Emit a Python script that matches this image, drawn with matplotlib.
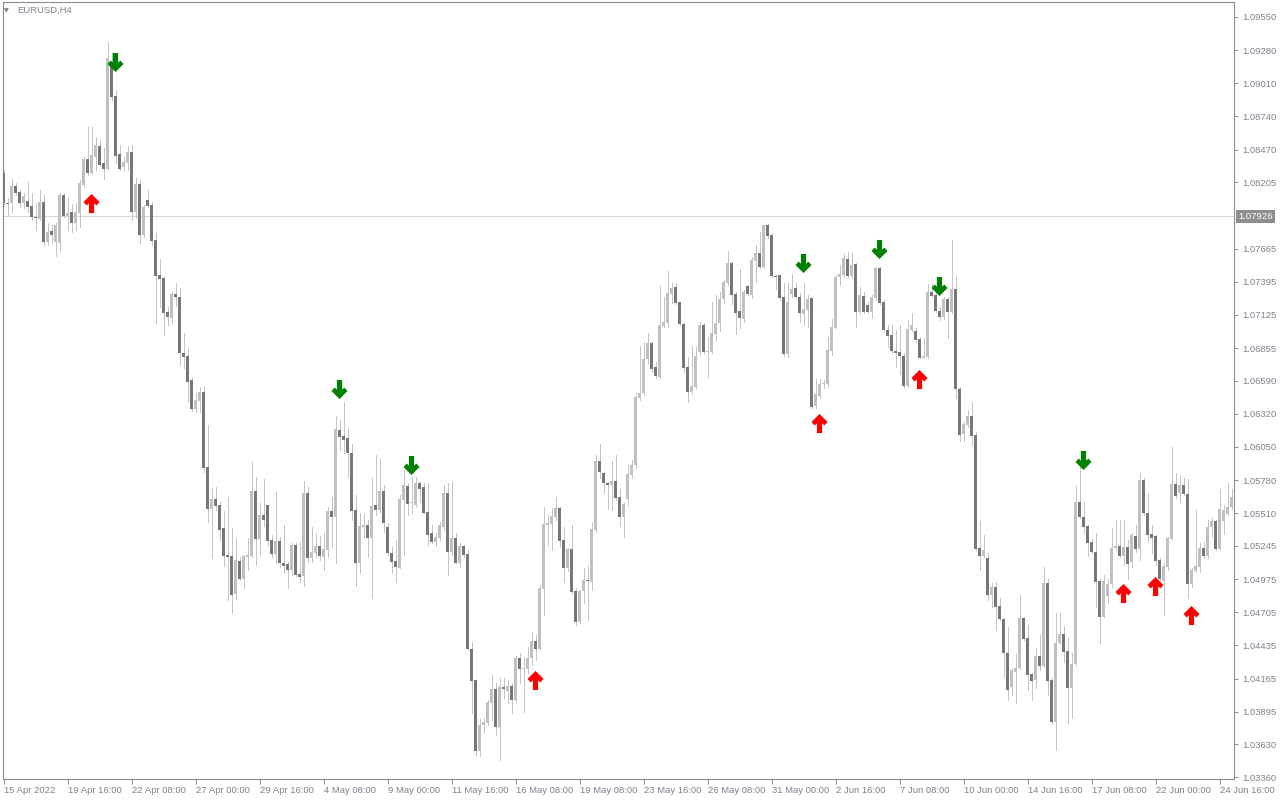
import numpy as np
import matplotlib
matplotlib.use("Agg")
import matplotlib.pyplot as plt
from matplotlib.path import Path
from matplotlib.transforms import blended_transform_factory

plt.rcParams['font.family'] = ['Liberation Sans', 'DejaVu Sans']

# ---------------- data ----------------
symbol_title = "EURUSD,H4"
date_labels = ["15 Apr 2022", "19 Apr 16:00", "22 Apr 08:00", "27 Apr 00:00", "29 Apr 16:00",
               "4 May 08:00", "9 May 00:00", "11 May 16:00", "16 May 08:00", "19 May 08:00",
               "23 May 16:00", "26 May 08:00", "31 May 00:00", "2 Jun 16:00", "7 Jun 08:00",
               "10 Jun 00:00", "14 Jun 16:00", "17 Jun 08:00", "22 Jun 00:00", "24 Jun 16:00"]
price_ticks = [1.09550, 1.09280, 1.09010, 1.08740, 1.08470, 1.08205, 1.07665, 1.07395,
               1.07125, 1.06855, 1.06590, 1.06320, 1.06050, 1.05780, 1.05510, 1.05245,
               1.04975, 1.04705, 1.04435, 1.04165, 1.03895, 1.03630, 1.03360]
current_price = 1.07926

opens = [
    1.08280, 1.08036, 1.08036, 1.08174, 1.08125, 1.08036, 1.08052, 1.08011, 1.07922, 1.07906,
    1.08044, 1.07718, 1.07808, 1.07718, 1.07710, 1.08100, 1.07930, 1.07963, 1.07873, 1.07954,
    1.08182, 1.08394, 1.08280, 1.08410, 1.08499, 1.08362, 1.08312, 1.09184, 1.08906, 1.08434,
    1.08329, 1.08362, 1.08451, 1.07963, 1.08190, 1.07775, 1.08060, 1.08019, 1.07734, 1.07449,
    1.07425, 1.07148, 1.07099, 1.07295, 1.07270, 1.06815, 1.06790, 1.06595, 1.06359, 1.06424,
    1.06497, 1.05887, 1.05545, 1.05626, 1.05577, 1.05390, 1.05170, 1.05162, 1.04853, 1.05122,
    1.04975, 1.05154, 1.05162, 1.05691, 1.05301, 1.05496, 1.05577, 1.05292, 1.05178, 1.05284,
    1.05105, 1.05097, 1.05048, 1.05252, 1.05016, 1.05000, 1.05675, 1.05146, 1.05187, 1.05244,
    1.05154, 1.05211, 1.05528, 1.05480, 1.06188, 1.06139, 1.06123, 1.06000, 1.05537, 1.05105,
    1.05398, 1.05414, 1.05309, 1.05577, 1.05537, 1.05691, 1.05398, 1.05187, 1.05122, 1.05065,
    1.05618, 1.05732, 1.05594, 1.05577, 1.05756, 1.05724, 1.05520, 1.05349, 1.05276, 1.05309,
    1.05398, 1.05675, 1.05195, 1.05309, 1.05105, 1.05244, 1.05178, 1.04405, 1.04153, 1.03575,
    1.03786, 1.03803, 1.03966, 1.04080, 1.03770, 1.04096, 1.04064, 1.04104, 1.03990, 1.04332,
    1.04242, 1.04242, 1.04332, 1.04470, 1.04405, 1.04894, 1.05414, 1.05423, 1.05480, 1.05553,
    1.05292, 1.05065, 1.05219, 1.04877, 1.04625, 1.04877, 1.04967, 1.04951, 1.05374, 1.05935,
    1.05838, 1.05756, 1.05740, 1.05773, 1.05642, 1.05480, 1.05626, 1.05821, 1.05903, 1.06448,
    1.06489, 1.06766, 1.06896, 1.06701, 1.06619, 1.07034, 1.07059, 1.07295, 1.07352, 1.07230,
    1.07050, 1.06701, 1.06497, 1.06538, 1.06823, 1.07042, 1.06823, 1.06823, 1.06969, 1.07059,
    1.07254, 1.07384, 1.07547, 1.07295, 1.07156, 1.07091, 1.07360, 1.07287, 1.07563, 1.07629,
    1.07515, 1.07856, 1.07775, 1.07441, 1.07449, 1.07270, 1.06806, 1.07295, 1.07344, 1.07270,
    1.07132, 1.07165, 1.07262, 1.06383, 1.06464, 1.06562, 1.06562, 1.06831, 1.07018, 1.07433,
    1.07449, 1.07580, 1.07441, 1.07539, 1.07148, 1.07278, 1.07205, 1.07148, 1.07262, 1.07507,
    1.07230, 1.07002, 1.06961, 1.06831, 1.06823, 1.06790, 1.06546, 1.07002, 1.06994, 1.06929,
    1.06774, 1.06782, 1.07311, 1.07287, 1.07156, 1.07108, 1.07254, 1.07148, 1.07336, 1.06522,
    1.06155, 1.06228, 1.06302, 1.06147, 1.05227, 1.05162, 1.05146, 1.04845, 1.04910, 1.04755,
    1.04649, 1.04373, 1.04096, 1.04218, 1.04250, 1.04657, 1.04495, 1.04202, 1.04153, 1.04348,
    1.04267, 1.04943, 1.04153, 1.03811, 1.04454, 1.04527, 1.04389, 1.04088, 1.04283, 1.05602,
    1.05480, 1.05407, 1.05276, 1.05195, 1.04959, 1.04666, 1.04837, 1.04934, 1.05227, 1.05244,
    1.05162, 1.05235, 1.05114, 1.05325, 1.05219, 1.05781, 1.05512, 1.05341, 1.05325, 1.05130,
    1.04959, 1.05073, 1.05301, 1.05748, 1.05675, 1.05740, 1.05667, 1.04934, 1.05040, 1.05073,
    1.05227, 1.05162, 1.05398, 1.05447, 1.05219, 1.05447, 1.05504, 1.05561]

highs = [
    1.08304, 1.08076, 1.08231, 1.08199, 1.08141, 1.08117, 1.08207, 1.08117, 1.08036, 1.08141,
    1.08100, 1.07873, 1.07856, 1.07873, 1.08117, 1.08117, 1.08076, 1.08027, 1.08036, 1.08223,
    1.08410, 1.08654, 1.08654, 1.08573, 1.08548, 1.08483, 1.09346, 1.09257, 1.08955, 1.08507,
    1.08410, 1.08499, 1.08507, 1.08239, 1.08223, 1.08019, 1.08141, 1.08044, 1.07791, 1.07580,
    1.07433, 1.07189, 1.07311, 1.07384, 1.07344, 1.06977, 1.06847, 1.06619, 1.06489, 1.06538,
    1.06546, 1.06228, 1.05716, 1.05724, 1.05602, 1.05528, 1.05642, 1.05390, 1.05309, 1.05154,
    1.05170, 1.05309, 1.05927, 1.05805, 1.05594, 1.05789, 1.05577, 1.05333, 1.05683, 1.05317,
    1.05414, 1.05113, 1.05268, 1.05268, 1.05276, 1.05773, 1.05724, 1.05398, 1.05341, 1.05325,
    1.05349, 1.05561, 1.05642, 1.06302, 1.06269, 1.06416, 1.06196, 1.06074, 1.05659, 1.05512,
    1.05512, 1.05455, 1.05797, 1.05984, 1.05952, 1.05740, 1.05431, 1.05235, 1.05292, 1.05659,
    1.05862, 1.05756, 1.05805, 1.05805, 1.05764, 1.05756, 1.05756, 1.05414, 1.05349, 1.05439,
    1.05740, 1.05756, 1.05773, 1.05349, 1.05268, 1.05252, 1.05211, 1.04462, 1.04153, 1.03835,
    1.03843, 1.03990, 1.04194, 1.04129, 1.04169, 1.04169, 1.04153, 1.04129, 1.04348, 1.04373,
    1.04340, 1.04421, 1.04544, 1.04519, 1.04926, 1.05561, 1.05496, 1.05553, 1.05642, 1.05561,
    1.05398, 1.05227, 1.05414, 1.04902, 1.04886, 1.05065, 1.05081, 1.05439, 1.05984, 1.06074,
    1.05846, 1.05764, 1.05935, 1.05984, 1.05707, 1.05594, 1.05903, 1.05944, 1.06489, 1.06872,
    1.06904, 1.06977, 1.06904, 1.06741, 1.07360, 1.07270, 1.07482, 1.07384, 1.07384, 1.07230,
    1.07059, 1.06782, 1.06872, 1.06864, 1.07067, 1.07059, 1.06945, 1.07230, 1.07287, 1.07311,
    1.07409, 1.07645, 1.07555, 1.07311, 1.07498, 1.07327, 1.07368, 1.07596, 1.07694, 1.07800,
    1.07856, 1.07865, 1.07791, 1.07449, 1.07449, 1.07384, 1.07384, 1.07457, 1.07384, 1.07303,
    1.07384, 1.07287, 1.07270, 1.06603, 1.06603, 1.06595, 1.06945, 1.07091, 1.07449, 1.07531,
    1.07620, 1.07637, 1.07629, 1.07547, 1.07352, 1.07311, 1.07230, 1.07287, 1.07515, 1.07515,
    1.07246, 1.07042, 1.07042, 1.07002, 1.07042, 1.06815, 1.07083, 1.07140, 1.07018, 1.06945,
    1.06937, 1.07376, 1.07384, 1.07311, 1.07189, 1.07270, 1.07270, 1.07734, 1.07433, 1.06538,
    1.06253, 1.06351, 1.06416, 1.06172, 1.05447, 1.05333, 1.05187, 1.04943, 1.04951, 1.04820,
    1.04657, 1.04584, 1.04250, 1.04364, 1.04845, 1.04666, 1.04600, 1.04210, 1.04413, 1.04519,
    1.05073, 1.04975, 1.04169, 1.04698, 1.04698, 1.04592, 1.04495, 1.04373, 1.05732, 1.05887,
    1.05602, 1.05414, 1.05301, 1.05349, 1.04975, 1.05008, 1.04975, 1.05390, 1.05455, 1.05455,
    1.05455, 1.05292, 1.05349, 1.05414, 1.05838, 1.05797, 1.05675, 1.05414, 1.05333, 1.05146,
    1.05105, 1.05317, 1.06049, 1.05838, 1.05821, 1.05797, 1.05789, 1.05065, 1.05537, 1.05268,
    1.05276, 1.05455, 1.05472, 1.05455, 1.05707, 1.05577, 1.05756, 1.05707]

lows = [
    1.08011, 1.07938, 1.07963, 1.08100, 1.08003, 1.07995, 1.07963, 1.07897, 1.07816, 1.07897,
    1.07693, 1.07693, 1.07710, 1.07604, 1.07653, 1.07922, 1.07816, 1.07800, 1.07816, 1.07840,
    1.08166, 1.08263, 1.08272, 1.08304, 1.08337, 1.08231, 1.08304, 1.08874, 1.08362, 1.08304,
    1.08304, 1.08304, 1.07897, 1.07914, 1.07710, 1.07759, 1.08003, 1.07693, 1.07059, 1.07189,
    1.06961, 1.07042, 1.07059, 1.07197, 1.06717, 1.06693, 1.06416, 1.06342, 1.06334, 1.06334,
    1.05846, 1.05439, 1.05146, 1.05537, 1.05292, 1.05081, 1.04804, 1.04698, 1.04812, 1.04967,
    1.04902, 1.05048, 1.05154, 1.05089, 1.05178, 1.05407, 1.05252, 1.05154, 1.05105, 1.05073,
    1.05024, 1.04902, 1.05008, 1.05000, 1.04951, 1.04918, 1.05114, 1.05114, 1.05154, 1.05130,
    1.05048, 1.05154, 1.05235, 1.05105, 1.06025, 1.06000, 1.05805, 1.05455, 1.04918, 1.05024,
    1.05317, 1.05154, 1.04820, 1.05496, 1.05520, 1.05358, 1.05170, 1.05024, 1.04951, 1.05065,
    1.05170, 1.05496, 1.05512, 1.05561, 1.05602, 1.05512, 1.05252, 1.05268, 1.05244, 1.05292,
    1.05374, 1.05008, 1.05170, 1.05105, 1.05073, 1.05154, 1.04397, 1.03884, 1.03542, 1.03534,
    1.03729, 1.03786, 1.03827, 1.03705, 1.03501, 1.04006, 1.03966, 1.03884, 1.03974, 1.04129,
    1.03892, 1.04210, 1.04275, 1.04316, 1.04397, 1.04682, 1.05252, 1.05211, 1.05455, 1.05235,
    1.04951, 1.05040, 1.04861, 1.04600, 1.04617, 1.04780, 1.04641, 1.04886, 1.05358, 1.05797,
    1.05675, 1.05545, 1.05537, 1.05618, 1.05407, 1.05317, 1.05577, 1.05797, 1.05879, 1.06432,
    1.06473, 1.06733, 1.06660, 1.06611, 1.06611, 1.07026, 1.07026, 1.07222, 1.07213, 1.07042,
    1.06660, 1.06416, 1.06489, 1.06530, 1.06806, 1.06815, 1.06619, 1.06815, 1.06921, 1.06994,
    1.07222, 1.07368, 1.07213, 1.06969, 1.07018, 1.07067, 1.07287, 1.07262, 1.07392, 1.07507,
    1.07507, 1.07751, 1.07433, 1.07336, 1.07246, 1.06790, 1.06782, 1.07270, 1.07262, 1.07067,
    1.07042, 1.07026, 1.06367, 1.06367, 1.06448, 1.06530, 1.06546, 1.06798, 1.07018, 1.07368,
    1.07433, 1.07433, 1.07425, 1.07026, 1.07140, 1.07140, 1.07140, 1.07099, 1.07246, 1.07213,
    1.06994, 1.06864, 1.06815, 1.06701, 1.06644, 1.06530, 1.06538, 1.06994, 1.06904, 1.06774,
    1.06774, 1.06774, 1.07270, 1.07148, 1.07083, 1.07091, 1.06937, 1.07140, 1.06448, 1.06098,
    1.06098, 1.06212, 1.06066, 1.05211, 1.05048, 1.05154, 1.04804, 1.04747, 1.04560, 1.04641,
    1.04177, 1.03990, 1.04031, 1.03966, 1.04242, 1.04478, 1.04072, 1.03990, 1.04088, 1.04234,
    1.04259, 1.04031, 1.03803, 1.03583, 1.04446, 1.04299, 1.03803, 1.03843, 1.04275, 1.05472,
    1.05349, 1.05162, 1.05187, 1.04747, 1.04454, 1.04666, 1.04780, 1.04910, 1.05211, 1.05154,
    1.05089, 1.04975, 1.05073, 1.05195, 1.05130, 1.05496, 1.05276, 1.05187, 1.05089, 1.04967,
    1.04682, 1.05048, 1.05292, 1.05634, 1.05594, 1.05659, 1.04820, 1.04910, 1.05032, 1.05032,
    1.05146, 1.05146, 1.05317, 1.05211, 1.05211, 1.05341, 1.05496, 1.05545]

closes = [
    1.08036, 1.08027, 1.08174, 1.08117, 1.08036, 1.08092, 1.08003, 1.07922, 1.07914, 1.08044,
    1.07718, 1.07800, 1.07775, 1.07856, 1.08100, 1.07930, 1.07954, 1.07873, 1.07963, 1.08199,
    1.08394, 1.08280, 1.08426, 1.08507, 1.08345, 1.08312, 1.09216, 1.08898, 1.08418, 1.08312,
    1.08370, 1.08451, 1.07963, 1.08190, 1.07775, 1.08003, 1.08011, 1.07726, 1.07441, 1.07417,
    1.07140, 1.07108, 1.07295, 1.07270, 1.06815, 1.06782, 1.06578, 1.06359, 1.06432, 1.06497,
    1.05879, 1.05545, 1.05626, 1.05569, 1.05374, 1.05162, 1.05154, 1.04845, 1.05130, 1.04975,
    1.05162, 1.05170, 1.05691, 1.05301, 1.05496, 1.05455, 1.05284, 1.05178, 1.05284, 1.05105,
    1.05081, 1.05048, 1.05252, 1.05008, 1.04992, 1.05675, 1.05146, 1.05195, 1.05244, 1.05162,
    1.05219, 1.05528, 1.05480, 1.06196, 1.06131, 1.06106, 1.06000, 1.05528, 1.05105, 1.05407,
    1.05414, 1.05309, 1.05569, 1.05537, 1.05691, 1.05431, 1.05187, 1.05113, 1.05073, 1.05626,
    1.05740, 1.05585, 1.05602, 1.05756, 1.05707, 1.05512, 1.05333, 1.05276, 1.05317, 1.05414,
    1.05675, 1.05195, 1.05309, 1.05105, 1.05244, 1.05170, 1.04405, 1.04145, 1.03575, 1.03786,
    1.03811, 1.03974, 1.04080, 1.03770, 1.04096, 1.04080, 1.04104, 1.03990, 1.04332, 1.04242,
    1.04250, 1.04332, 1.04470, 1.04405, 1.04902, 1.05423, 1.05431, 1.05488, 1.05553, 1.05284,
    1.05065, 1.05219, 1.04869, 1.04625, 1.04877, 1.04967, 1.04959, 1.05382, 1.05935, 1.05846,
    1.05756, 1.05740, 1.05773, 1.05634, 1.05480, 1.05585, 1.05830, 1.05903, 1.06456, 1.06489,
    1.06766, 1.06896, 1.06684, 1.06627, 1.07042, 1.07067, 1.07303, 1.07344, 1.07222, 1.07050,
    1.06693, 1.06497, 1.06546, 1.06790, 1.07042, 1.06823, 1.06831, 1.06977, 1.07059, 1.07254,
    1.07392, 1.07547, 1.07287, 1.07140, 1.07099, 1.07311, 1.07295, 1.07572, 1.07629, 1.07515,
    1.07856, 1.07767, 1.07441, 1.07433, 1.07262, 1.06806, 1.07230, 1.07336, 1.07270, 1.07140,
    1.07173, 1.07254, 1.06375, 1.06481, 1.06562, 1.06570, 1.06839, 1.07026, 1.07433, 1.07457,
    1.07588, 1.07441, 1.07531, 1.07148, 1.07287, 1.07148, 1.07148, 1.07270, 1.07507, 1.07222,
    1.07002, 1.06953, 1.06831, 1.06815, 1.06790, 1.06546, 1.07010, 1.07042, 1.06921, 1.06774,
    1.06790, 1.07311, 1.07278, 1.07156, 1.07108, 1.07254, 1.07148, 1.07336, 1.06522, 1.06147,
    1.06237, 1.06302, 1.06139, 1.05219, 1.05162, 1.05211, 1.04845, 1.04910, 1.04747, 1.04649,
    1.04373, 1.04072, 1.04234, 1.04250, 1.04657, 1.04486, 1.04194, 1.04145, 1.04348, 1.04267,
    1.04943, 1.04145, 1.03811, 1.04454, 1.04527, 1.04381, 1.04088, 1.04283, 1.05602, 1.05480,
    1.05398, 1.05268, 1.05195, 1.04951, 1.04666, 1.04959, 1.04934, 1.05227, 1.05244, 1.05162,
    1.05235, 1.05097, 1.05333, 1.05219, 1.05781, 1.05512, 1.05333, 1.05309, 1.05122, 1.04975,
    1.05081, 1.05309, 1.05748, 1.05651, 1.05740, 1.05667, 1.04934, 1.05048, 1.05081, 1.05227,
    1.05162, 1.05398, 1.05447, 1.05219, 1.05545, 1.05537, 1.05561, 1.05642]

# signal arrows: candle index and price level of the arrow centre
sell_idx = [27, 83, 101, 199, 218, 233, 269]
sell_price = [1.09187, 1.06518, 1.05899, 1.07551, 1.07661, 1.07360, 1.05940]
buy_idx = [21, 132, 203, 228, 279, 287, 296]
buy_price = [1.08036, 1.04153, 1.06249, 1.06607, 1.04865, 1.04922, 1.04686]

# ---------------- style ----------------
BULL = '#c0c0c0'
BEAR = '#777777'
WICK = '#c4c4c4'
FRAME = '#8c8c8c'
TXT = '#80808e'
FS = 6.8

W, H = 1280, 800
fig = plt.figure(figsize=(W / 100, H / 100), dpi=100)
fig.patch.set_facecolor('white')
ax = fig.add_axes([2.5 / W, 21 / H, 1231.5 / W, 777 / H])
ax.set_facecolor('white')

o = np.array(opens); h = np.array(highs); l = np.array(lows); c = np.array(closes)
x = np.arange(len(o))
up = c > o
bottom = np.minimum(o, c)
height = np.maximum(np.abs(c - o), 0.00008)

ax.axhline(current_price, color='#d6d6d6', lw=0.75, zorder=1)
ax.vlines(x, l, h, colors=WICK, linewidth=0.55, zorder=2, antialiased=False)
ax.bar(x[up], height[up], bottom=bottom[up], width=0.78, color=BULL, linewidth=0,
       zorder=3, antialiased=False)
ax.bar(x[~up], height[~up], bottom=bottom[~up], width=0.78, color=BEAR, linewidth=0,
       zorder=3, antialiased=False)

# arrow markers (thick chevron head with shaft)
up_verts = [(0, 9.5), (8, 1.5), (4.8, -2.0), (2.6, 0.2), (2.6, -9.5), (-2.6, -9.5),
            (-2.6, 0.2), (-4.8, -2.0), (-8, 1.5), (0, 9.5)]
codes = [Path.MOVETO] + [Path.LINETO] * 8 + [Path.CLOSEPOLY]
up_arrow = Path(up_verts, codes)
down_arrow = Path([(vx, -vy) for vx, vy in up_verts], codes)

ax.plot(np.array(buy_idx) + 0.85, buy_price, linestyle='none', marker=up_arrow,
        markersize=13.7, color='#ff0000', markeredgewidth=0, zorder=5)
ax.plot(np.array(sell_idx) + 0.75, sell_price, linestyle='none', marker=down_arrow,
        markersize=13.7, color='#008000', markeredgewidth=0, zorder=5)

ax.set_xlim(-0.25, 307.625)
ax.set_ylim(1.03347, 1.09672)

for s in ax.spines.values():
    s.set_color(FRAME)
    s.set_linewidth(0.8)

ax.yaxis.tick_right()
ax.set_yticks(price_ticks)
ax.set_yticklabels([f"{p:.5f}" for p in price_ticks])
ax.tick_params(axis='y', direction='out', length=3, width=0.7, color=FRAME,
               labelsize=FS, labelcolor=TXT, pad=3)

ax.set_xticks(np.arange(len(date_labels)) * 16)
ax.set_xticklabels(date_labels, ha='left')
ax.tick_params(axis='x', direction='out', length=3.5, width=0.7, color=FRAME,
               labelsize=FS, labelcolor=TXT, pad=1.5)

trans = blended_transform_factory(ax.transAxes, ax.transData)
ax.text(1.0035, current_price, f"{current_price:.5f}", transform=trans, ha='left', va='center',
        fontsize=FS, color='white', clip_on=False, zorder=6,
        bbox=dict(boxstyle='square,pad=0.22', fc='#8e8e8e', ec='none'))

fig.text(6.5 / W, 1 - 10.5 / H, "\u25bc", fontsize=4.5, color='#808080',
         ha='center', va='center', family=['DejaVu Sans'])
fig.text(17 / W, 1 - 10.5 / H, symbol_title, fontsize=FS, color=TXT, ha='left', va='center')

fig.savefig("out.png", dpi=100, facecolor='white')
